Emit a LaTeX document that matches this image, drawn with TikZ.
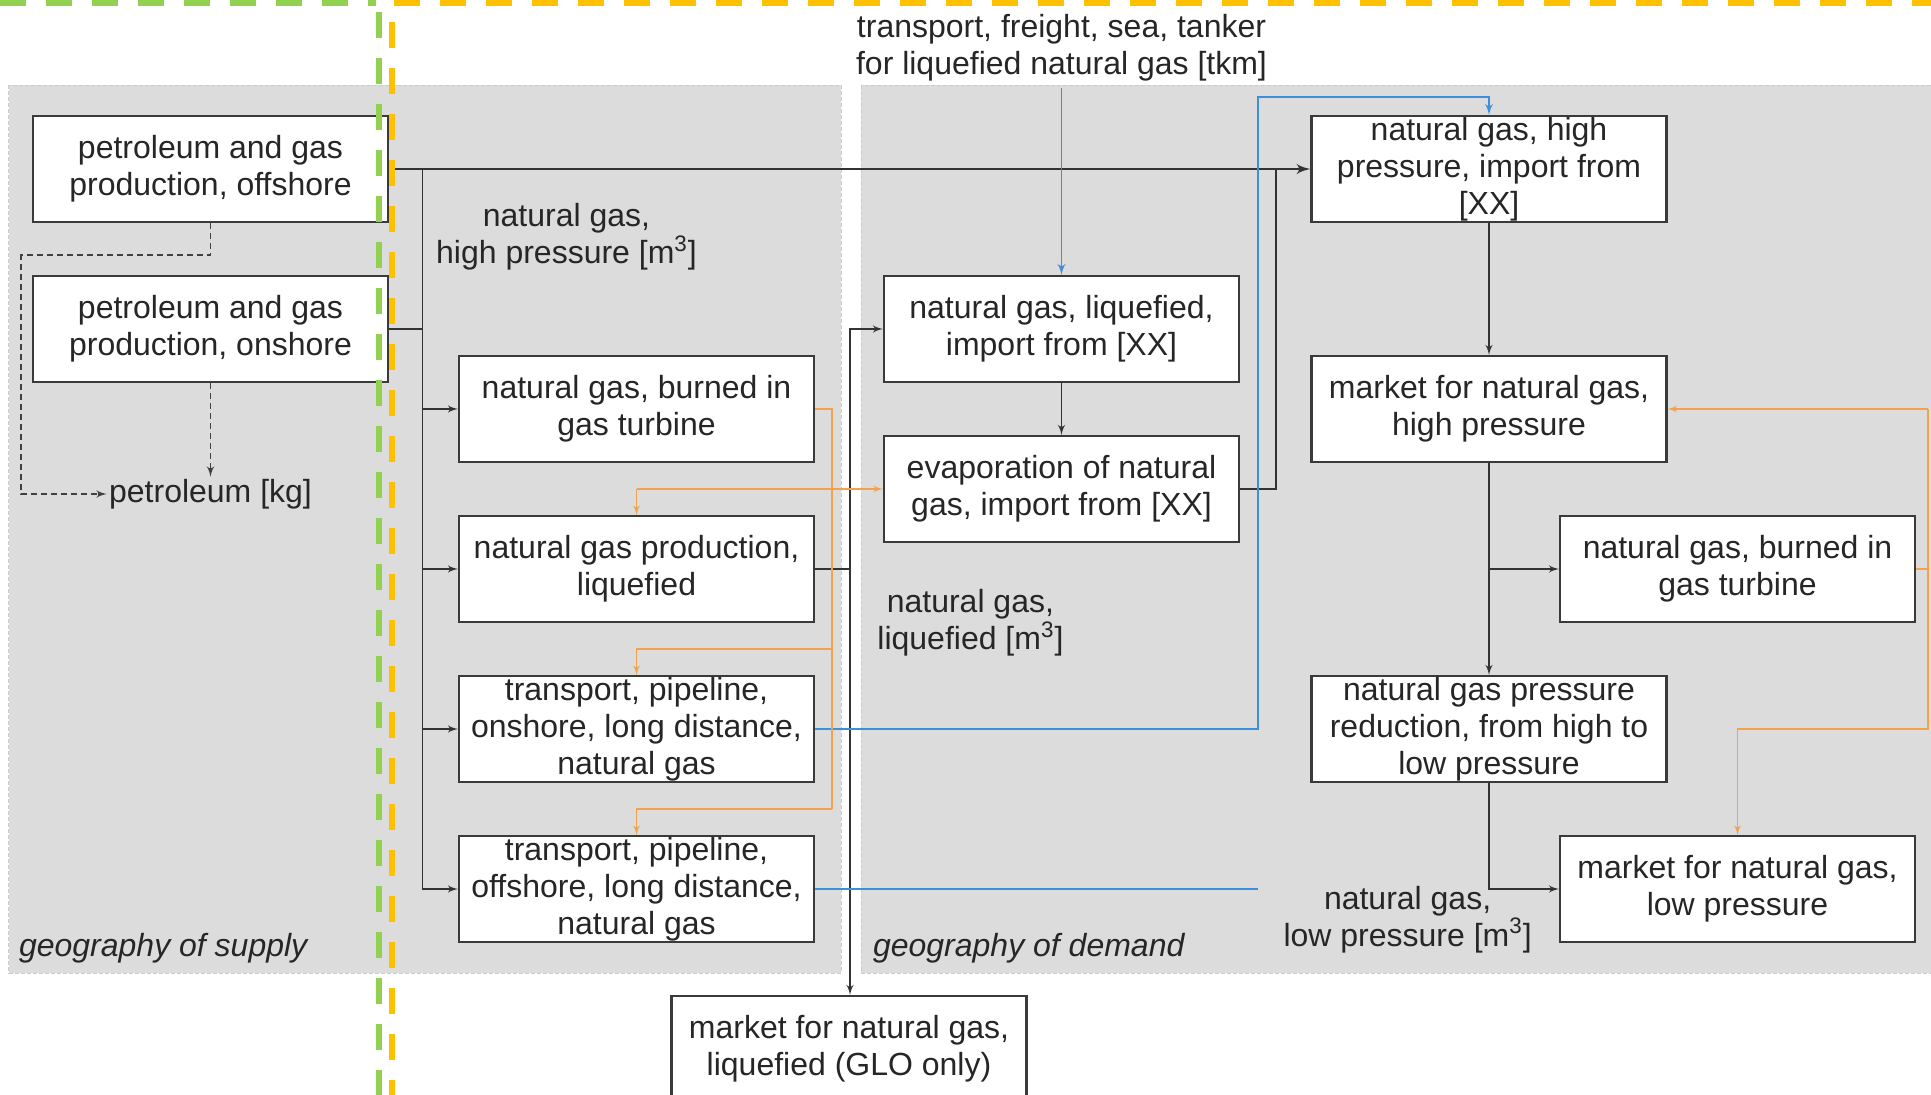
\documentclass[tikz,border=0pt]{standalone}
\usepackage{fontspec}
\setmainfont{Liberation Sans}
\usetikzlibrary{arrows,positioning}
\definecolor{panelgray}{HTML}{DCDCDC}
\definecolor{boxline}{HTML}{3A3A3A}
\definecolor{techblue}{HTML}{3D8FDB}
\definecolor{auxorange}{HTML}{F2A24E}
\definecolor{supgreen}{HTML}{92D050}
\definecolor{demyellow}{HTML}{FFC000}
\tikzset{
  proc/.style={
    rectangle, draw=boxline, line width=1.1pt, fill=white,
    minimum width=177.5pt, minimum height=53pt,
    align=center, inner sep=0.3pt, text=black!85,
  },
  lbl/.style={align=center, text=black!85},
  region/.style={fill=panelgray, draw=black!20, line width=0.4pt, dash pattern=on 2pt off 1pt},
  flow/.style={draw=black!80, -latex', line width=0.75pt},
  trunk/.style={flow, line width=1.4pt},
  techflow/.style={draw=techblue, -latex', line width=0.9pt},
  auxflow/.style={draw=auxorange, -latex', line width=0.65pt},
  oilflow/.style={draw=black!75, -latex', line width=0.8pt, dash pattern=on 3pt off 2pt},
  border/.style={line width=3pt, dash pattern=on 13pt off 10pt},
}
\begin{document}
\begin{tikzpicture}[font=\fontsize{16}{18.5}\selectfont, on grid]
\useasboundingbox (0,0) rectangle (965.5pt,-547.5pt);
% geographies
\path[region] (4.3pt,-42.5pt) rectangle (420.5pt,-486.5pt);
\path[region] (430.5pt,-42.5pt) rectangle (968pt,-486.5pt);
\node[lbl, anchor=west] (suplbl) at (6pt,-474pt) {\itshape geography of supply};
\node[lbl, anchor=west] (demlbl) at (433pt,-474pt) {\itshape geography of demand};
% supply side
\node [proc] (off) at (105.25pt,-84.5pt) {petroleum and gas\\production, offshore};
\node [proc, below=80pt of off] (on) {petroleum and gas\\production, onshore};
\node [lbl, inner sep=1pt] (petro) at (105.25pt,-247pt) {petroleum [kg]};
\node [proc] (burnS) at (318.25pt,-204.5pt) {natural gas, burned in\\gas turbine};
\node [proc, below=80pt of burnS] (liqprod) {natural gas production,\\liquefied};
\node [proc, below=80pt of liqprod] (tpon) {transport, pipeline,\\onshore, long distance,\\natural gas};
\node [proc, below=80pt of tpon] (tpoff) {transport, pipeline,\\offshore, long distance,\\natural gas};
\node [proc] (glo) at (424.5pt,-524.5pt) {market for natural gas,\\liquefied (GLO only)};
% demand side
\node [proc] (liqimp) at (530.75pt,-164.5pt) {natural gas, liquefied,\\import from [XX]};
\node [proc, below=80pt of liqimp] (evap) {evaporation of natural\\gas, import from [XX]};
\node [proc] (hpimp) at (744.5pt,-84.5pt) {natural gas, high\\pressure, import from\\{[XX]}};
\node [proc, below=120pt of hpimp] (mkthp) {market for natural gas,\\high pressure};
\node [proc, below=160pt of mkthp] (red) {natural gas pressure\\reduction, from high to\\low pressure};
\node [proc] (burnD) at (868.75pt,-284.5pt) {natural gas, burned in\\gas turbine};
\node [proc, below=160pt of burnD] (mktlp) {market for natural gas,\\low pressure};
% flow labels
\node [lbl] (tanker) at (530.75pt,-23.8pt) {transport, freight, sea, tanker\\for liquefied natural gas [tkm]};
\node [lbl] (hplbl) at (283.25pt,-118.5pt) {natural gas,\\high pressure [m\textsuperscript{3}]};
\node [lbl] (lqlbl) at (485.2pt,-311.5pt) {natural gas,\\liquefied [m\textsuperscript{3}]};
\node [lbl] (lplbl) at (703.8pt,-459.7pt) {natural gas,\\low pressure [m\textsuperscript{3}]};
% high pressure gas
\coordinate (hpbus) at (211.2pt,-84.5pt);
\path [trunk] (off.east) -- (hpimp.west);
\path [flow,-] (on.east) -- (on.east -| hpbus);
\path [flow] (hpbus) |- (tpoff.west);
\foreach \n in {burnS,liqprod,tpon}
  \path [flow] (hpbus |- \n.west) -- (\n.west);
\coordinate (evjoin) at (638pt,-84.5pt);
\path [flow,-] (evap.east) -| (evjoin);
% liquefied gas
\coordinate (lqjoin) at (425pt,-284.5pt);
\path [flow,-] (liqprod.east) -- (lqjoin);
\path [flow] (lqjoin) |- (liqimp.west);
\path [flow] (lqjoin) -- (lqjoin |- glo.north);
\path [flow] (liqimp) -- (evap);
% transport
\path [techflow] (tanker) -- (liqimp);
\coordinate (pipejoin) at (629pt,-48.5pt);
\path [techflow,-] (tpoff.east) -- (tpoff.east -| pipejoin);
\path [techflow] (tpon.east) -| (pipejoin) -| (hpimp.north);
% demand market
\path [flow] (hpimp) -- (mkthp);
\path [flow] (mkthp) -- (red);
\path [flow] (mkthp.south |- burnD.west) -- (burnD.west);
\path [flow] (red.south) |- (mktlp.west);
% electricity, supply
\coordinate (auxS) at (416pt,-204.5pt);
\coordinate (auxSend) at (416pt,-404.5pt);
\coordinate (lqin) at (318.25pt,-244.5pt);
\coordinate (tponin) at (318.25pt,-324.5pt);
\coordinate (tpoffin) at (318.25pt,-404.5pt);
\path [auxflow,-] (burnS.east) -- (auxS) -- (auxSend);
\path [auxflow] (lqin) -- (liqprod.north);
\path [auxflow] (lqin) -- (evap.west);
\path [auxflow] (tponin -| auxS) -- (tponin) -- (tpon.north);
\path [auxflow] (auxSend) -- (tpoffin) -- (tpoff.north);
% electricity, demand
\coordinate (auxD) at (964pt,-204.5pt);
\path [auxflow] (auxD) -- (mkthp.east);
\path [auxflow,-] (burnD.east) -- (burnD.east -| auxD);
\path [auxflow] (auxD) |- (mktlp.north |- red.east) -- (mktlp.north);
% petroleum
\coordinate (oilturn) at (10.5pt,-247pt);
\path [oilflow] (off.south) -- ++(0,-16pt) -| (oilturn) -- (petro.west);
\path [oilflow] (on) -- (petro);
% supply and demand borders
\draw [border, supgreen] (0,-1.5pt) -- (188pt,-1.5pt);
\draw [border, supgreen] (189.5pt,-6pt) -- (189.5pt,-547.5pt);
\draw [border, demyellow] (197pt,-1.5pt) -- (965.5pt,-1.5pt);
\draw [border, demyellow] (196pt,-11pt) -- (196pt,-547.5pt);
\end{tikzpicture}
\end{document}
